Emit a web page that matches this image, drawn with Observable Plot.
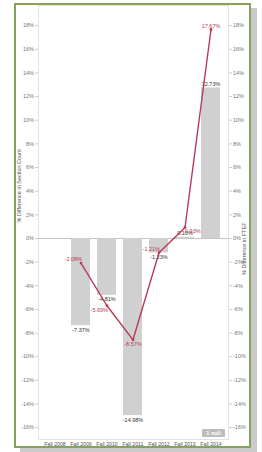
<!DOCTYPE html>
<html><head><meta charset="utf-8">
<script src="https://cdn.jsdelivr.net/npm/d3@7"></script>
<script src="https://cdn.jsdelivr.net/npm/@observablehq/plot@0.6"></script>
<style>
html,body{margin:0;padding:0;background:#fff;width:262px;height:452px;overflow:hidden;font-family:Arial,"Liberation Sans",sans-serif;}
#card{position:absolute;left:14px;top:3px;width:237px;height:445px;box-sizing:border-box;border:2px solid #86a35a;background:#fff;box-shadow:6px 5px 0 #cbcbcb;}
#chart{position:absolute;left:0;top:0;}
#null{position:absolute;left:202px;top:429px;width:23px;height:8px;background:#bdbdbd;color:#fff;font-size:5.5px;font-weight:bold;line-height:8px;text-align:center;border-radius:1px;}
</style></head>
<body>
<div id="card"></div>
<div id="chart"></div>
<div id="null">1 null</div>
<script>
const terms = ["Fall 2008","Fall 2009","Fall 2010","Fall 2011","Fall 2012","Fall 2013","Fall 2014"];
const sectionDiff = [null, -7.37, -4.81, -14.98, -1.23, 0.10, 12.73];
const ftefDiff = [null, -2.08, -5.69, -8.57, -1.21, 0.93, 17.67];
const yTicks = [-16,-14,-12,-10,-8,-6,-4,-2,0,2,4,6,8,10,12,14,16,18];
const leftTitle = "% Difference in Section Count";
const rightTitle = "% Difference in FTEF";

const fmt = v => v.toFixed(2) + "%";
const bars = terms.map((t,i)=>({term:t, v:sectionDiff[i]})).filter(d=>d.v!=null);
const pts = terms.map((t,i)=>({term:t, v:ftefDiff[i], bar:sectionDiff[i], prev: i>0?ftefDiff[i-1]:null, next: i<terms.length-1?ftefDiff[i+1]:null})).filter(d=>d.v!=null);
pts.forEach(d=>{
  d.below = d.prev!=null && d.prev > d.v;
  const extreme = d.next==null || (d.prev!=null && ((d.prev>d.v)!==(d.next<d.v)));
  d.anchor = extreme ? "middle" : "end";
  if (d.bar!=null && d.bar>=0 && Math.abs(d.bar-d.v)<2) { d.anchor = "start"; d.below = true; }
});
const red = "#b93a55";
const fs = 5.5;
const lbl = (below, anchor) => Plot.text(pts.filter(d=>d.below===below && d.anchor===anchor), {
  x:"term", y:"v", text:d=>fmt(d.v), fill:red, fontSize:fs,
  textAnchor: anchor, lineAnchor: below?"top":"bottom", dy: below?2:-2, dx: anchor==="end"?1:0});
const plot = Plot.plot({
  width: 262, height: 452,
  marginLeft: 38, marginRight: 34, marginTop: 5, marginBottom: 13,
  style: {background:"transparent", fontFamily:"Arial, 'Liberation Sans', sans-serif"},
  x: {domain: terms, padding: 0.26, label: null},
  y: {domain: [-17, 19.7], label: null},
  marks: [
    Plot.frame({stroke:"#e3e3e3"}),
    Plot.ruleY([0], {stroke:"#c4c4c4"}),
    Plot.barY(bars, {x:"term", y:"v", fill:"#d0d0d0"}),
    Plot.axisY({anchor:"left", ticks:yTicks, tickFormat:d=>d+"%", tickSize:3, tickPadding:1.5, fontSize:fs, color:"#777", stroke:"#ccc"}),
    Plot.axisY({anchor:"right", ticks:yTicks, tickFormat:d=>d+"%", tickSize:3, tickPadding:1.5, fontSize:fs, color:"#777", stroke:"#ccc"}),
    Plot.axisX({anchor:"bottom", tickSize:0, tickPadding:3, fontSize:5.2, color:"#555"}),
    Plot.text(bars.filter(d=>d.v<0), {x:"term", y:"v", text:d=>fmt(d.v), lineAnchor:"top", dy:2, fontSize:fs, fill:"#333"}),
    Plot.text(bars.filter(d=>d.v>=0), {x:"term", y:"v", text:d=>fmt(d.v), lineAnchor:"bottom", dy:-2, fontSize:fs, fill:"#333"}),
    Plot.line(pts, {x:"term", y:"v", stroke:red, strokeWidth:1.4}),
    Plot.dot(pts, {x:"term", y:"v", r:1.4, fill:red}),
    lbl(true,"end"), lbl(true,"middle"), lbl(true,"start"), lbl(false,"end"), lbl(false,"middle"),
    Plot.text([leftTitle], {frameAnchor:"left", text:d=>d, rotate:-90, dx:-19, fontSize:fs, fill:"#555"}),
    Plot.text([rightTitle], {frameAnchor:"right", text:d=>d, rotate:-90, dx:16, fontSize:fs, fill:"#555"})
  ]
});
document.getElementById("chart").appendChild(plot);
</script>
</body></html>
